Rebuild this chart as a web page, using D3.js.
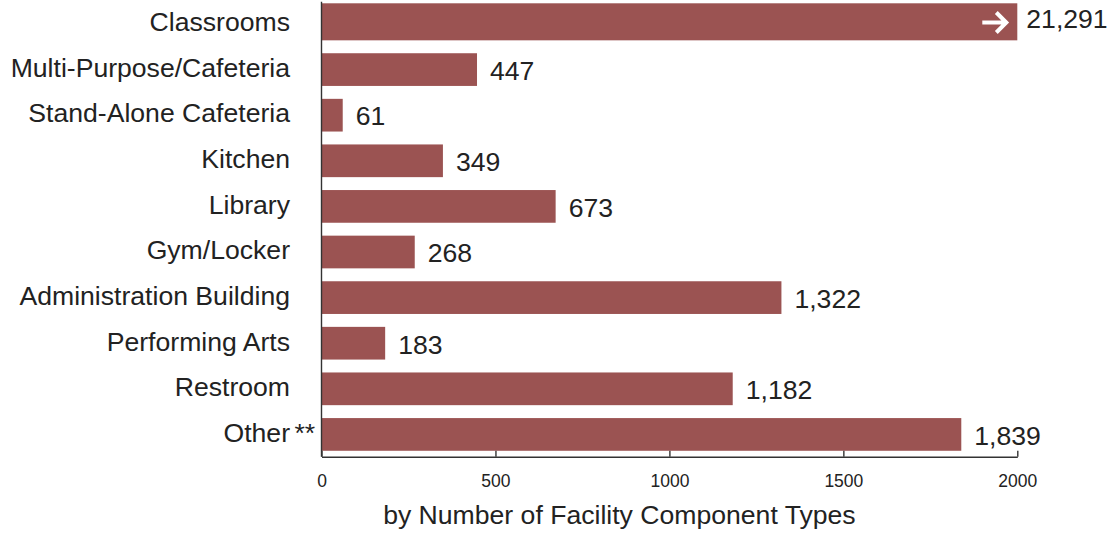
<!DOCTYPE html>
<html lang="en">
<head>
    <meta charset="UTF-8">
    <title>Facility Component Types</title>
    <script src="https://cdn.jsdelivr.net/npm/d3@7"></script>
    <style>
        body { margin: 0; background: #fff; }
        text { font-family: "Liberation Sans", Arial, sans-serif; fill: #222; }
    </style>
</head>
<body>
    <div class="chart"></div>
</body>
<script>
    const categories = ['Classrooms', 'Multi-Purpose/Cafeteria', 'Stand-Alone Cafeteria', 'Kitchen', 'Library',
        'Gym/Locker', 'Administration Building', 'Performing Arts', 'Restroom', 'Other']
    const values = [21291, 447, 61, 349, 673, 268, 1322, 183, 1182, 1839]
    const xTicks = [0, 500, 1000, 1500, 2000]
    const xMax = 2000
    const axisTitle = 'by Number of Facility Component Types'

    const width = 1108
    const height = 533
    const plot = { left: 321.5, right: 1017.3, top: 1.7, bottom: 456.7 }
    const barColor = '#9b5352'
    const fontSize = '26.6px'

    const svg = d3.select('.chart')
        .append('svg')
        .attr('width', width)
        .attr('height', height)

    const x = d3.scaleLinear().domain([0, xMax]).range([plot.left, plot.right])
    const y = d3.scaleBand().domain(categories).range([plot.top, plot.bottom])
        .paddingInner(0.283).paddingOuter(0.13)

    const data = categories.map((c, i) => ({ name: c, value: values[i] }))
    const fmt = d3.format(',')
    const cy = d => y(d.name) + y.bandwidth() / 2

    // bars (clipped at axis max; the clipped one runs up to the top of the plot)
    svg.selectAll('.bar')
        .data(data)
        .enter()
        .append('rect')
        .attr('class', 'bar')
        .attr('fill', barColor)
        .attr('x', x(0))
        .attr('y', d => d.value > xMax ? plot.top + 1.6 : y(d.name))
        .attr('width', d => x(Math.min(d.value, xMax)) - x(0))
        .attr('height', d => d.value > xMax ? y(d.name) + y.bandwidth() - plot.top - 1.6 : y.bandwidth())

    // arrow on bars that run past the axis
    svg.selectAll('.arrow')
        .data(data.filter(d => d.value > xMax))
        .enter()
        .append('path')
        .attr('class', 'arrow')
        .attr('fill', 'none')
        .attr('stroke', '#fff')
        .attr('stroke-width', 4)
        .attr('d', d => {
            const ex = x(xMax) - 9, my = cy(d) - 1.5
            return `M${ex - 26},${my}H${ex - 2}M${ex - 12},${my - 10}L${ex - 2},${my}L${ex - 12},${my + 10}`
        })

    // value labels
    svg.selectAll('.value')
        .data(data)
        .enter()
        .append('text')
        .attr('class', 'value')
        .attr('font-size', fontSize)
        .attr('x', d => x(Math.min(d.value, xMax)) + (d.value > xMax ? 9 : 13))
        .attr('y', d => cy(d) + (d.value > xMax ? -5 : 1))
        .attr('dy', '0.35em')
        .text(d => fmt(d.value))

    // category labels
    svg.selectAll('.cat')
        .data(data)
        .enter()
        .append('text')
        .attr('class', 'cat')
        .attr('font-size', fontSize)
        .attr('text-anchor', 'end')
        .attr('x', plot.left - 31.5)
        .attr('y', d => cy(d) - 2)
        .attr('dy', '0.35em')
        .text(d => d.name)
    svg.append('text')
        .attr('font-size', fontSize)
        .attr('x', plot.left - 27)
        .attr('y', cy(data[data.length - 1]) - 2)
        .attr('dy', '0.35em')
        .text('**')

    // axes
    const xAxis = d3.axisBottom(x).tickValues(xTicks).tickFormat(d3.format('d'))
        .tickSizeInner(-6).tickSizeOuter(0).tickPadding(18)
    const gx = svg.append('g')
        .attr('transform', `translate(0, ${plot.bottom})`)
        .call(xAxis)
    gx.selectAll('path, line').attr('stroke', '#333').attr('stroke-width', 1.4)
    gx.selectAll('text').attr('font-size', '17.5px').attr('fill', '#222')
        .style('font-family', '"Liberation Sans", Arial, sans-serif')

    svg.append('line')
        .attr('x1', x(0)).attr('x2', x(0))
        .attr('y1', plot.top).attr('y2', plot.bottom)
        .attr('stroke', '#333')
        .attr('stroke-width', 1.4)

    svg.append('text')
        .attr('font-size', fontSize)
        .attr('text-anchor', 'middle')
        .attr('x', (plot.left + plot.right) / 2 - 50)
        .attr('y', 524)
        .text(axisTitle)
</script>
</html>
